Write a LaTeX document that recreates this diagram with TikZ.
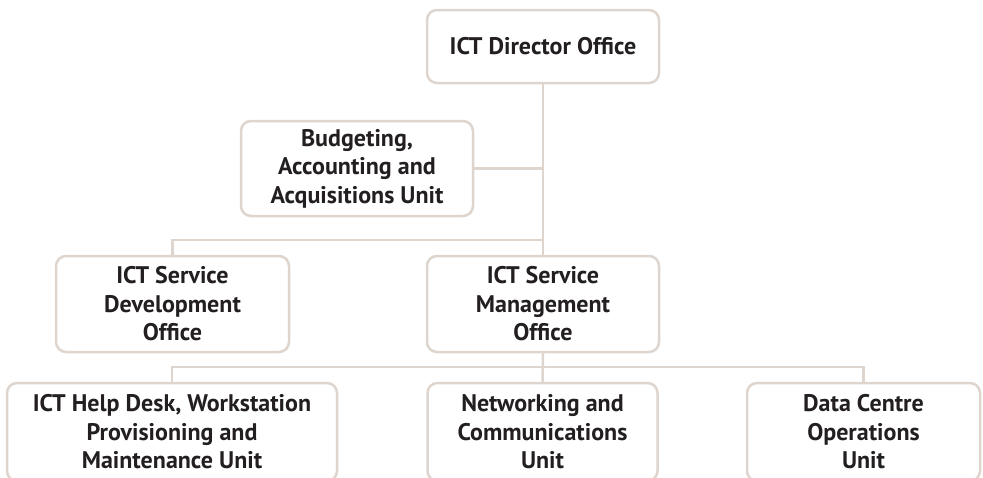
\documentclass[tikz,border=0pt]{standalone}
\usepackage{fontspec}
\setmainfont{PT Sans}
\usetikzlibrary{positioning}

\definecolor{boxline}{HTML}{DDD5CE}
\definecolor{boxtext}{HTML}{231F20}

\tikzset{
  unit/.style={draw=boxline, line width=2.5pt, rounded corners=10pt,
    fill=white, align=center, text=boxtext, inner sep=0pt,
    font=\fontsize{24}{28.5}\selectfont\bfseries},
  link/.style={draw=boxline, line width=2.5pt}
}

\begin{document}
\begin{tikzpicture}[x=1pt,y=1pt]
  \clip (0,0) rectangle (983,-477);

  % top of the chart
  \node[unit, minimum width=232pt, minimum height=73pt] (dir) at (543,-46.5)
    {ICT Director Office};
  \node[unit, minimum width=232pt, minimum height=95pt] (budget) at (357,-168.5)
    {Budgeting,\\Accounting and\\Acquisitions Unit};

  % offices
  \node[unit, minimum width=233pt, minimum height=96pt] (dev) at (172.5,-304)
    {ICT Service\\Development\\Office};
  \node[unit, minimum width=232pt, minimum height=96pt] (mgmt) at (543,-304)
    {ICT Service\\Management\\Office};

  % units, cut off at the bottom edge
  \node[unit, minimum width=330pt, minimum height=98pt] (help) at (172,-432)
    {ICT Help Desk, Workstation\\Provisioning and\\Maintenance Unit};
  \node[unit, minimum width=230pt, minimum height=98pt] (net) at (542.5,-432)
    {Networking and\\Communications\\Unit};
  \node[unit, minimum width=233pt, minimum height=98pt] (dc) at (863.5,-432)
    {Data Centre\\Operations\\Unit};

  \coordinate (upper) at (543,-240);
  \coordinate (lower) at (543,-367);

  \draw[link] (dir) -- (mgmt);
  \draw[link] (budget) -- (budget -| dir);
  \draw[link] (dev) |- (upper);
  \draw[link] (mgmt) -- (net);
  \draw[link] (help) |- (lower) -| (dc);
\end{tikzpicture}
\end{document}
